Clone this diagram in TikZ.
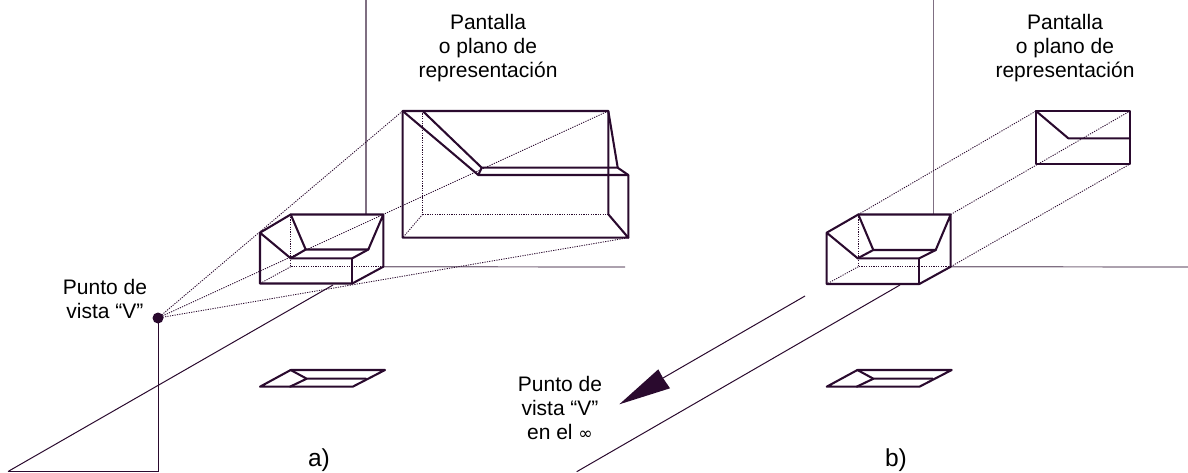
\documentclass[tikz,border=0pt]{standalone}
\usepackage{fontspec}
\setmainfont{Liberation Sans}
\definecolor{ink}{HTML}{2A0A2E}
\definecolor{axisc}{HTML}{7F6F82}
\tikzset{
  x=0.75pt,y=-0.75pt,
  heavy/.style={draw=ink,line width=1.55pt,line join=round,line cap=round},
  thinl/.style={draw=ink,line width=0.75pt},
  axisl/.style={draw=axisc,line width=0.9pt},
  dots/.style={draw=ink,line width=0.65pt,dash pattern=on 0.9pt off 0.9pt},
  lab/.style={align=center,font=\fontsize{15.75pt}{18.3pt}\selectfont,inner sep=0pt},
  tag/.style={font=\fontsize{18.4pt}{20pt}\selectfont,inner sep=0pt,anchor=base},
}
\begin{document}
\begin{tikzpicture}
\useasboundingbox (0,0) rectangle (1188,472);
% ---- left box
\foreach \n/\p in {a/{290.7,214.5},b/{383.3,214.5},c/{260,232.7},d/{260,283.5},e/{352.3,283.5},f/{352.3,258.3},g/{290.7,258.3},h/{305.7,249.5},i/{368.3,249.5},j/{383.3,266.7},k/{290.7,266.7}}
  \coordinate (\n) at (\p);
\foreach \n/\p in {A/{402.7,111},B/{608.3,111},C/{422.7,111},D/{402.7,237.7},E/{628.3,237.7},F/{628.3,175},G/{478.3,175},H/{481.7,167.7},I/{617.7,167.7},J/{422.7,214.3},K/{608.3,214.3}}
  \coordinate (\n) at (\p);
\coordinate (V) at (158,318);
\coordinate (VB) at (158,471.5);
\coordinate (GL) at (8,471.5);
\coordinate (GLe) at (333,285);
\coordinate (axT) at (366,0);
\coordinate (axB) at (366,214.5);
\coordinate (axE) at (625,267);
% axes
\draw[axisl] (axT) -- (axB);
\draw[axisl] (j) -- (axE);
\draw[thinl] (GL) -- (GLe);
\draw[thinl] (GL) -- (VB) -- (V);
% rays
\draw[dots] (V) -- (A);
\draw[dots] (V) -- (B);
\draw[dots] (V) -- (E);
% hidden edges
\draw[dots] (a) -- (k) -- (j);
\draw[dots] (k) -- (d);
\draw[dots] (C) -- (J) -- (K);
\draw[dots] (J) -- (D);
% box
\draw[heavy] (c) -- (a) -- (b) -- (j) -- (e) -- (d) -- (c) -- (g) -- (f) -- (i) -- (b);
\draw[heavy] (a) -- (h) -- (i);
\draw[heavy] (g) -- (h);
\draw[heavy] (f) -- (e);
% big projection
\draw[heavy] (D) -- (A) -- (B) -- (K) -- (E) -- (D);
\draw[heavy] (A) -- (G) -- (F) -- (E);
\draw[heavy] (C) -- (H) -- (I) -- (F);
\draw[heavy] (G) -- (H);
\draw[heavy] (B) -- (I);
\fill[ink] (V) circle (5.5);
% ---- left plan
\foreach \n/\p in {pa/{260,386.7},pb/{352.7,386.7},pc/{385,370},pd/{290.7,370},pe/{306.7,378.7},pf/{366,378.7},pg/{290,386.7}}
  \coordinate (\n) at (\p);
\draw[heavy] (pa) -- (pb) -- (pc) -- (pd) -- cycle;
\draw[heavy] (pd) -- (pe) -- (pf);
\draw[heavy] (pg) -- (pe);
% ---- right box
\foreach \n/\p in {ra/{858.3,214.5},rb/{950.7,214.5},rc/{826.7,232.7},rd/{826.7,284},re/{919.3,284},rf/{919.3,258.3},rg/{857.7,258.3},rh/{873.3,250},ri/{935.7,250},rj/{950.7,266.7},rk/{858.3,266.7}}
  \coordinate (\n) at (\p);
\foreach \n/\p in {rA/{1036,111},rB/{1130,111},rC/{1036,164},rD/{1130,164},rE/{1068.3,138.3},rF/{1130,138.3}}
  \coordinate (\n) at (\p);
\coordinate (raxT) at (933.3,0);
\coordinate (raxB) at (933.3,214.5);
\coordinate (raxE) at (1188,267);
\coordinate (rgl) at (576.7,471.7);
\coordinate (rgle) at (900,285);
\coordinate (tipS) at (805,296);
\coordinate (tipM) at (663,378);
\coordinate (tip) at (619.3,404.3);
\coordinate (tipA) at (658.3,369.3);
\coordinate (tipB) at (670,388.3);
\draw[axisl] (raxT) -- (raxB);
\draw[axisl] (rj) -- (raxE);
\draw[thinl] (rgl) -- (rgle);
\draw[thinl] (tipS) -- (tipM);
\fill[ink] (tip) -- (tipA) -- (tipM) -- (tipB) -- cycle;
\draw[dots] (ra) -- (rA);
\draw[dots] (rb) -- (rB);
\draw[dots] (rj) -- (rD);
\draw[dots] (ra) -- (rk) -- (rj);
\draw[dots] (rk) -- (rd);
\draw[heavy] (rc) -- (ra) -- (rb) -- (rj) -- (re) -- (rd) -- (rc) -- (rg) -- (rf) -- (ri) -- (rb);
\draw[heavy] (ra) -- (rh) -- (ri);
\draw[heavy] (rg) -- (rh);
\draw[heavy] (rf) -- (re);
\draw[heavy] (rC) -- (rA) -- (rB) -- (rD) -- cycle;
\draw[heavy] (rA) -- (rE) -- (rF);
% ---- right plan
\foreach \n/\p in {qa/{826.7,386.7},qb/{919.4,386.7},qc/{951.7,370},qd/{857.4,370},qe/{873.4,378.7},qf/{932.7,378.7},qg/{856.7,386.7}}
  \coordinate (\n) at (\p);
\draw[heavy] (qa) -- (qb) -- (qc) -- (qd) -- cycle;
\draw[heavy] (qd) -- (qe) -- (qf);
\draw[heavy] (qg) -- (qe);
% ---- labels
\node[lab] (t1) at (488,48) {Pantalla\\o plano de\\representación};
\node[lab] (t2) at (1065,48) {Pantalla\\o plano de\\representación};
\node[lab] (t3) at (105,299) {Punto de\\vista “V”};
\node[lab] (t4) at (560,408) {Punto de\\vista “V”\\en el {\fontspec{DejaVu Sans}\fontsize{13pt}{13pt}\selectfont ∞}};
\node[tag] (ta) at (319,466) {a)};
\node[tag] (tb) at (896,466) {b)};
\end{tikzpicture}
\end{document}
